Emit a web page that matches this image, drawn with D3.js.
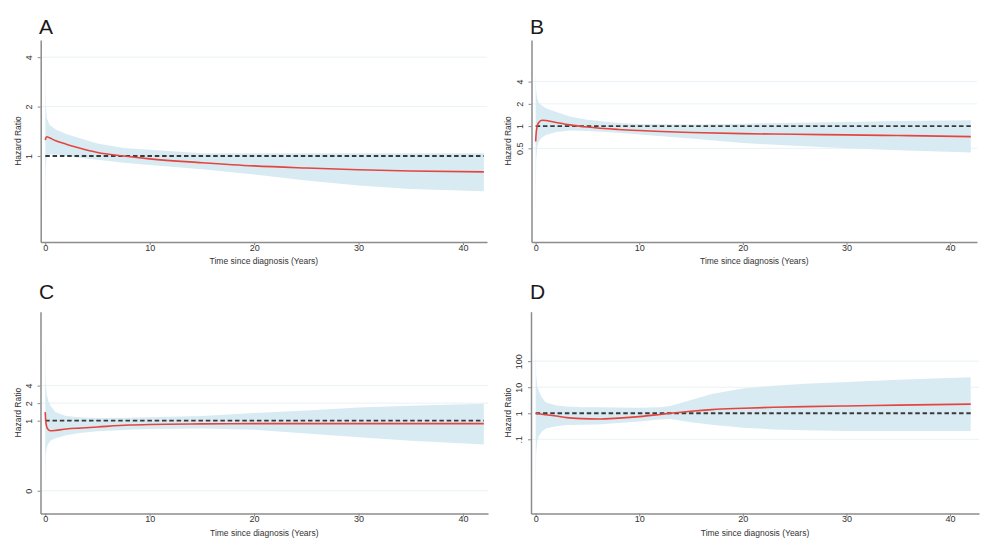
<!DOCTYPE html>
<html>
<head>
<meta charset="utf-8">
<script src="https://cdn.jsdelivr.net/npm/d3@7"></script>
<style>
  html, body { margin: 0; padding: 0; background: #fff; }
  svg { display: block; font-family: "Liberation Sans", Arial, sans-serif; }
</style>
</head>
<body>
<svg id="chart" width="1000" height="550"></svg>
<script>
// ---------- DATA ----------
const panelLabels = ["A", "B", "C", "D"];
const xTicks = [0, 10, 20, 30, 40];
const xTitle = "Time since diagnosis (Years)";
const yTitle = "Hazard Ratio";

// Panel A
const tA  = [0, 0.05, 0.15, 0.4, 1, 2, 3, 5, 7.5, 10, 15, 20, 25, 30, 35, 42];
const hrA = [1.25, 1.29, 1.31, 1.29, 1.24, 1.18, 1.13, 1.05, 1.0, 0.96, 0.91, 0.87, 0.845, 0.825, 0.81, 0.80];
const loA = [0.4, 0.85, 1.0, 1.02, 1.02, 1.0, 0.98, 0.95, 0.91, 0.88, 0.83, 0.77, 0.71, 0.66, 0.63, 0.61];
const upA = [4.0, 2.0, 1.7, 1.55, 1.45, 1.36, 1.3, 1.19, 1.12, 1.09, 1.04, 1.04, 1.04, 1.04, 1.04, 1.04];
const yTicksA = [1, 2, 4];
const yLabelsA = ["1", "2", "4"];

// Panel B
const tB  = [0, 0.05, 0.15, 0.3, 0.6, 1, 2, 3.3, 5, 8, 10, 15, 20, 25, 30, 35, 42];
const hrB = [0.62, 0.8, 1.0, 1.12, 1.2, 1.19, 1.12, 1.04, 0.97, 0.9, 0.87, 0.82, 0.79, 0.775, 0.76, 0.745, 0.72];
const loB = [0.06, 0.35, 0.52, 0.62, 0.7, 0.76, 0.83, 0.87, 0.86, 0.81, 0.77, 0.68, 0.59, 0.54, 0.5, 0.47, 0.44];
const upB = [5.5, 3.0, 2.4, 2.05, 1.9, 1.75, 1.55, 1.35, 1.22, 1.1, 1.07, 1.05, 1.08, 1.11, 1.14, 1.17, 1.2];
const yTicksB = [0.5, 1, 2, 4];
const yLabelsB = ["0.5", "1", "2", "4"];

// Panel C
const tC  = [0, 0.05, 0.15, 0.3, 0.5, 1, 2, 3.5, 5, 8, 10, 15, 20, 25, 30, 35, 42];
const hrC = [1.4, 1.0, 0.78, 0.7, 0.67, 0.68, 0.72, 0.75, 0.78, 0.84, 0.86, 0.88, 0.89, 0.89, 0.89, 0.89, 0.89];
const loC = [0.07, 0.25, 0.35, 0.4, 0.45, 0.5, 0.56, 0.62, 0.66, 0.7, 0.72, 0.73, 0.7, 0.6, 0.52, 0.45, 0.39];
const upC = [30, 4.5, 2.8, 2.2, 1.8, 1.4, 1.2, 1.13, 1.11, 1.12, 1.14, 1.2, 1.35, 1.5, 1.68, 1.8, 1.95];
const yTicksC = [0.0625, 1, 2, 4];
const yLabelsC = ["0", "1", "2", "4"];

// Panel D
const tD  = [0, 0.05, 0.15, 0.3, 0.6, 1, 2, 3, 4.5, 6, 8, 10, 12, 13, 15, 17, 20, 23, 26, 30, 35, 42];
const hrD = [1.0, 0.99, 0.97, 0.95, 0.92, 0.88, 0.78, 0.68, 0.62, 0.6, 0.65, 0.74, 0.9, 1.0, 1.2, 1.38, 1.55, 1.7, 1.8, 1.9, 2.05, 2.25];
const loD = [0.001, 0.03, 0.08, 0.13, 0.2, 0.26, 0.32, 0.35, 0.36, 0.37, 0.42, 0.48, 0.58, 0.6, 0.45, 0.36, 0.28, 0.24, 0.22, 0.21, 0.21, 0.21];
const upD = [350, 30, 11, 7.5, 4, 2.6, 2.0, 1.8, 1.7, 1.7, 1.65, 1.62, 1.7, 1.9, 3.2, 5.5, 9.0, 11.5, 13.5, 16, 19.5, 24];
const yTicksD = [0.1, 1, 10, 100];
const yLabelsD = [".1", "1", "10", "100"];

// ---------- LAYOUT ----------
const panels = [
  { label: panelLabels[0], t: tA, hr: hrA, lo: loA, up: upA, yt: yTicksA, yl: yLabelsA,
    left: 40.7, right: 487, top: 40, bottom: 242, xDom: [-0.44, 42.3], yDom: [Math.pow(2, -1.741), Math.pow(2, 2.348)],
    titleX: 39, titleY: 34, yTitleX: 21 },
  { label: panelLabels[1], t: tB, hr: hrB, lo: loB, up: upB, yt: yTicksB, yl: yLabelsB,
    left: 531.5, right: 977, top: 40, bottom: 242, xDom: [-0.4, 42.6], yDom: [Math.pow(2, -5.21), Math.pow(2, 3.87)],
    titleX: 530, titleY: 34, yTitleX: 511 },
  { label: panelLabels[2], t: tC, hr: hrC, lo: loC, up: upC, yt: yTicksC, yl: yLabelsC,
    left: 40.5, right: 488, top: 311.7, bottom: 513.5, xDom: [-0.45, 42.4], yDom: [Math.pow(2, -5.3), Math.pow(2, 6.22)],
    titleX: 39, titleY: 299, yTitleX: 21 },
  { label: panelLabels[3], t: tD, hr: hrD, lo: loD, up: upD, yt: yTicksD, yl: yLabelsD,
    left: 531, right: 979, top: 311.7, bottom: 513.5, xDom: [-0.45, 42.8], yDom: [Math.pow(10, -3.85), Math.pow(10, 3.9)],
    titleX: 530, titleY: 299, yTitleX: 511 }
];

const svg = d3.select("#chart");
const bandColor = "#d8ebf3";
const redColor = "#e3463f";
const axisColor = "#8c8c8c";
const textColor = "#333";

panels.forEach(p => {
  const x = d3.scaleLinear().domain(p.xDom).range([p.left, p.right]);
  const y = d3.scaleLog().domain(p.yDom).range([p.bottom, p.top]);
  const g = svg.append("g");
  const rows = p.t.map((t, i) => ({ t, hr: p.hr[i], lo: p.lo[i], up: p.up[i] }));

  // gridlines
  g.selectAll(".grid").data(p.yt.filter(v => v !== 1)).enter().append("line")
    .attr("x1", p.left).attr("x2", p.right)
    .attr("y1", d => y(d)).attr("y2", d => y(d))
    .attr("stroke", "#e9f2f6").attr("stroke-width", 1);

  // CI band
  const area = d3.area().x(d => x(d.t)).y0(d => y(d.lo)).y1(d => y(d.up)).curve(d3.curveLinear);
  g.append("path").datum(rows).attr("d", area).attr("fill", bandColor);

  // reference line at HR = 1
  g.append("line")
    .attr("x1", x(0)).attr("x2", x(42))
    .attr("y1", y(1)).attr("y2", y(1))
    .attr("stroke", "#3a3a3a").attr("stroke-width", 1.8).attr("stroke-dasharray", "4.5,2.8");

  // HR line
  const line = d3.line().x(d => x(d.t)).y(d => y(d.hr)).curve(d3.curveMonotoneX);
  g.append("path").datum(rows).attr("d", line)
    .attr("fill", "none").attr("stroke", redColor).attr("stroke-width", 1.6);

  // x axis
  const xa = g.append("g").attr("transform", `translate(0,${p.bottom})`)
    .call(d3.axisBottom(x).tickValues(xTicks).tickSize(3).tickSizeOuter(0).tickFormat(d3.format("d")));
  xa.select(".domain").attr("stroke", axisColor).attr("stroke-width", 1.5);
  xa.selectAll(".tick line").attr("stroke", axisColor);
  xa.selectAll(".tick text").attr("fill", textColor).attr("font-size", 9).attr("dy", "0.55em").attr("y", 4);

  // y axis
  const ya = g.append("g").attr("transform", `translate(${p.left},0)`)
    .call(d3.axisLeft(y).tickValues(p.yt).tickSize(3).tickSizeOuter(0).tickFormat((d, i) => p.yl[i]));
  ya.select(".domain").attr("stroke", axisColor).attr("stroke-width", 1.5);
  ya.selectAll(".tick line").attr("stroke", axisColor);
  ya.selectAll(".tick text")
    .attr("fill", textColor).attr("font-size", 9)
    .attr("x", null).attr("dy", null)
    .attr("text-anchor", "middle")
    .attr("transform", "translate(-9,0) rotate(-90)")
    .attr("y", 0).attr("dy", "0");

  // axis titles
  g.append("text")
    .attr("x", (p.left + p.right) / 2).attr("y", p.bottom + 22)
    .attr("text-anchor", "middle").attr("font-size", 8.5).attr("fill", textColor)
    .text(xTitle);
  g.append("text")
    .attr("transform", `translate(${p.yTitleX},${(p.top + p.bottom) / 2}) rotate(-90)`)
    .attr("text-anchor", "middle").attr("font-size", 8.5).attr("fill", textColor)
    .text(yTitle);

  // panel letter
  g.append("text")
    .attr("x", p.titleX).attr("y", p.titleY)
    .attr("font-size", 21).attr("fill", "#1a1a1a")
    .text(p.label);
});
</script>
</body>
</html>
